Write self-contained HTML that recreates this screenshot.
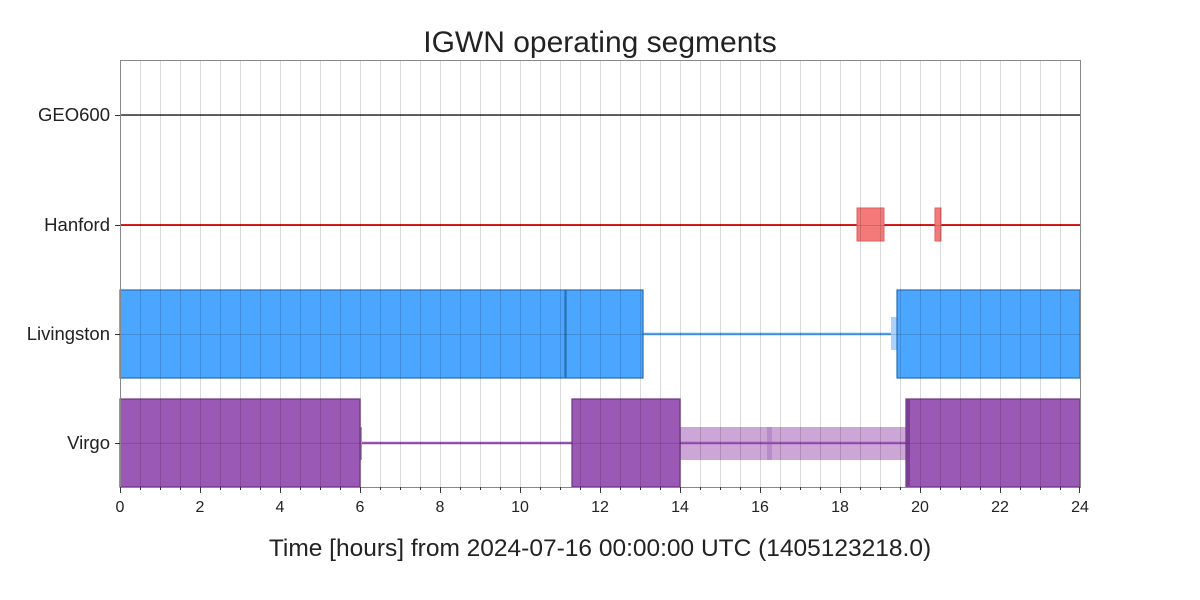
<!DOCTYPE html>
<html><head><style>body{margin:0;background:#fff}svg{display:block}text{font-family:"Liberation Sans",sans-serif;fill:#222}</style></head>
<body>
<svg width="1200" height="600" viewBox="0 0 1200 600" xmlns="http://www.w3.org/2000/svg">
<text x="600" y="52" font-size="30" text-anchor="middle">IGWN operating segments</text>
<line x1="120" y1="115" x2="1080" y2="115" stroke="#666" stroke-width="2"/>
<line x1="120" y1="225" x2="1080" y2="225" stroke="#d62020" stroke-width="2"/>
<rect x="857" y="208" width="27" height="33" fill="#f47a7a" stroke="#e06060"/>
<rect x="935" y="208" width="6" height="33" fill="#f47a7a" stroke="#e06060"/>
<line x1="643" y1="334" x2="891" y2="334" stroke="#4ba6ff" stroke-width="2.5"/>
<rect x="891" y="317" width="6" height="33" fill="#a8d2ff"/>
<rect x="120" y="290" width="445" height="88" fill="#4ba6ff" stroke="#2a6eb0" stroke-width="1.2"/>
<rect x="566" y="290" width="77" height="88" fill="#4ba6ff" stroke="#2a6eb0" stroke-width="1.2"/>
<rect x="897" y="290" width="183" height="88" fill="#4ba6ff" stroke="#2a6eb0" stroke-width="1.2"/>
<rect x="680" y="427" width="227" height="33" fill="#cba6d6"/>
<rect x="767" y="427" width="5" height="33" fill="#b98bc8"/>
<line x1="360" y1="443" x2="907" y2="443" stroke="#9b59b6" stroke-width="2.5"/>
<rect x="360" y="427" width="2" height="33" fill="#b98bc8"/>
<rect x="120" y="399" width="240" height="88" fill="#9b59b6" stroke="#6c3580" stroke-width="1.2"/>
<rect x="572" y="399" width="108" height="88" fill="#9b59b6" stroke="#6c3580" stroke-width="1.2"/>
<rect x="906" y="399" width="174" height="88" fill="#9b59b6" stroke="#6c3580" stroke-width="1.2"/>
<rect x="906" y="399" width="4" height="88" fill="#7a3f92"/>
<g stroke="rgba(0,0,0,0.14)" stroke-width="1">
<path d="M140.5 60V487M160.5 60V487M180.5 60V487M200.5 60V487M220.5 60V487M240.5 60V487M260.5 60V487M280.5 60V487M300.5 60V487M320.5 60V487M340.5 60V487M360.5 60V487M380.5 60V487M400.5 60V487M420.5 60V487M440.5 60V487M460.5 60V487M480.5 60V487M500.5 60V487M520.5 60V487M540.5 60V487M560.5 60V487M580.5 60V487M600.5 60V487M620.5 60V487M640.5 60V487M660.5 60V487M680.5 60V487M700.5 60V487M720.5 60V487M740.5 60V487M760.5 60V487M780.5 60V487M800.5 60V487M820.5 60V487M840.5 60V487M860.5 60V487M880.5 60V487M900.5 60V487M920.5 60V487M940.5 60V487M960.5 60V487M980.5 60V487M1000.5 60V487M1020.5 60V487M1040.5 60V487M1060.5 60V487"/>
<path d="M120 115.5H1080M120 225.5H1080M120 334.5H1080M120 443.5H1080"/>
</g>
<rect x="120.5" y="60.5" width="960" height="427" fill="none" stroke="#888" stroke-width="1"/>
<g stroke="#333"><path d="M115 115.5H120M115 225.5H120M115 334.5H120M115 443.5H120"/></g>
<g font-size="18.5" text-anchor="end">
<text x="110" y="121">GEO600</text><text x="110" y="231">Hanford</text><text x="110" y="340">Livingston</text><text x="110" y="449">Virgo</text>
</g>
<g stroke="#333">
<path d="M120.5 487V493M200.5 487V493M280.5 487V493M360.5 487V493M440.5 487V493M520.5 487V493M600.5 487V493M680.5 487V493M760.5 487V493M840.5 487V493M920.5 487V493M1000.5 487V493M1079.5 487V493"/>
<path d="M140.5 487V490M160.5 487V490M180.5 487V490M220.5 487V490M240.5 487V490M260.5 487V490M300.5 487V490M320.5 487V490M340.5 487V490M380.5 487V490M400.5 487V490M420.5 487V490M460.5 487V490M480.5 487V490M500.5 487V490M540.5 487V490M560.5 487V490M580.5 487V490M620.5 487V490M640.5 487V490M660.5 487V490M700.5 487V490M720.5 487V490M740.5 487V490M780.5 487V490M800.5 487V490M820.5 487V490M860.5 487V490M880.5 487V490M900.5 487V490M940.5 487V490M960.5 487V490M980.5 487V490M1020.5 487V490M1040.5 487V490M1060.5 487V490"/>
</g>
<g font-size="16" text-anchor="middle">
<text x="120" y="512">0</text><text x="200" y="512">2</text><text x="280" y="512">4</text><text x="360" y="512">6</text><text x="440" y="512">8</text><text x="520" y="512">10</text><text x="600" y="512">12</text><text x="680" y="512">14</text><text x="760" y="512">16</text><text x="840" y="512">18</text><text x="920" y="512">20</text><text x="1000" y="512">22</text><text x="1080" y="512">24</text>
</g>
<text x="600" y="556" font-size="24.5" text-anchor="middle">Time [hours] from 2024-07-16 00:00:00 UTC (1405123218.0)</text>
</svg>
</body></html>
